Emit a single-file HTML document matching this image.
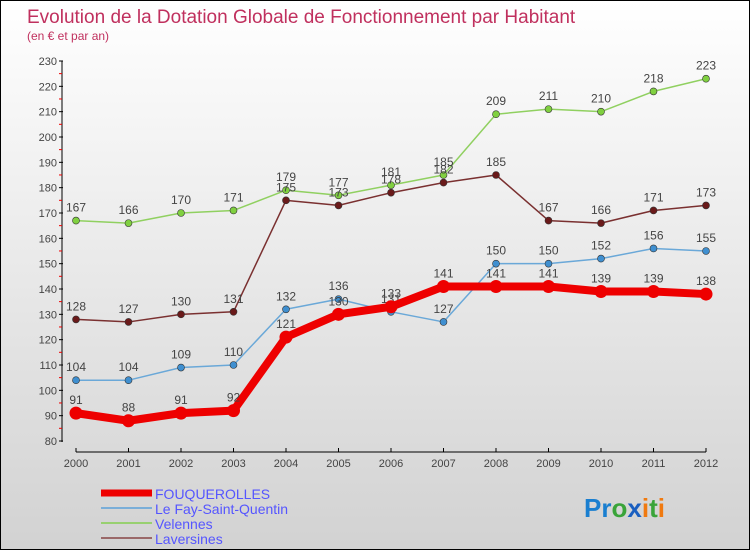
<!DOCTYPE html>
<html><head><meta charset="utf-8"><style>
body{margin:0;}
#wrap{position:relative;width:750px;height:550px;box-sizing:border-box;border:1px solid #000;background:linear-gradient(#ffffff,#d2d2d2);font-family:"Liberation Sans",sans-serif;overflow:hidden}
svg{position:absolute;left:0;top:0}
</style></head><body>
<div id="wrap">
<svg id="c" width="750" height="550">
<text x="26" y="22" font-size="19" fill="#c0305e">Evolution de la Dotation Globale de Fonctionnement par Habitant</text>
<text x="26" y="39" font-size="12" fill="#c0305e">(en € et par an)</text>
<g id="axes"></g><g id="series"></g><g id="legend"></g>
<text x="583" y="516" font-size="26" font-weight="bold"><tspan fill="#1a7fd0">Pr</tspan><tspan fill="#3aa43a">o</tspan><tspan fill="#1a5fc0">x</tspan><tspan fill="#f07a10">i</tspan><tspan fill="#3aa43a">t</tspan><tspan fill="#f07a10">i</tspan></text>
</svg>
</div>
<script>
const years=[2000,2001,2002,2003,2004,2005,2006,2007,2008,2009,2010,2011,2012];
const yTicks=[80,90,100,110,120,130,140,150,160,170,180,190,200,210,220,230];
const seriesNames=["FOUQUEROLLES","Le Fay-Saint-Quentin","Velennes","Laversines"];
const fouquerolles=[91,88,91,92,121,130,133,141,141,141,139,139,138];
const fay=[104,104,109,110,132,136,131,127,150,150,152,156,155];
const velennes=[167,166,170,171,179,177,181,185,209,211,210,218,223];
const laversines=[128,127,130,131,175,173,178,182,185,167,166,171,173];
const NS="http://www.w3.org/2000/svg";
function xS(i){return 75+i*(705-75)/(years.length-1);}
function yS(v){return 440-(v-80)*(380/150);}
function mk(tag,attrs,parent){const e=document.createElementNS(NS,tag);for(const k in attrs)e.setAttribute(k,attrs[k]);parent.appendChild(e);return e;}
const ax=document.getElementById('axes');
let l=mk('line',{x1:61,y1:60,x2:61,y2:441,stroke:'#000','stroke-width':1},ax);


yTicks.forEach(v=>{
 const y=yS(v);
 mk('line',{x1:58,y1:y,x2:62,y2:y,stroke:'#000'},ax);
 if(v<230)mk('line',{x1:58,y1:y-12.7,x2:61,y2:y-12.7,stroke:'#e00'},ax);
 const t=mk('text',{x:56,y:y+4,'font-size':11,fill:'#444','text-anchor':'end'},ax);t.textContent=v;
 
 
});
l=mk('line',{x1:75,y1:451,x2:705,y2:451,stroke:'#000','stroke-width':1},ax);


years.forEach((yr,i)=>{
 const x=xS(i);
 mk('line',{x1:x,y1:447,x2:x,y2:451,stroke:'#000'},ax);
 const t=mk('text',{x:x,y:466,'font-size':11,fill:'#444','text-anchor':'middle'},ax);t.textContent=yr;
 
 
});
const sg=document.getElementById('series');
function draw(data,color,w,r,name,dot){
 const g=mk('g',{},sg);
 
 
 mk('polyline',{points:data.map((v,i)=>xS(i)+','+yS(v)).join(' '),fill:'none',stroke:color,'stroke-width':w,'stroke-linejoin':'round'},g);
 data.forEach((v,i)=>{
  const c=mk('circle',{cx:xS(i),cy:yS(v),r:r,fill:dot,stroke:'#333','stroke-width':r>4?0:0.6},g);
  
  
  const t=mk('text',{x:xS(i),y:yS(v)-9,'font-size':12,fill:'#444','text-anchor':'middle'},g);t.textContent=v;
  
  
 });
}
draw(velennes,'#90d060',1.5,3.5,'velennes-series','#80d040');
draw(laversines,'#7a3030',1.5,3.5,'laversines-series','#6a1a1a');
draw(fay,'#6aa8d8',1.5,3.5,'fay-series','#3f8fd0');
draw(fouquerolles,'#ee0000',8,6.5,'fouquerolles-series','#ee0000');
const lg=document.getElementById('legend');
const lcol=['#ee0000','#7aaed8','#98d070','#9a6868'];const lw=[7,2,2,2];
seriesNames.forEach((n,i)=>{
 const y=524-3+(i*15)-30+1;
 const g=mk('g',{},lg);
 
 
 mk('line',{x1:100,y1:y,x2:151,y2:y,stroke:lcol[i],'stroke-width':lw[i]},g);
 const t=mk('text',{x:154,y:y+6,'font-size':14,fill:'#5555ff'},g);t.textContent=n;
});
</script>
</body></html>
